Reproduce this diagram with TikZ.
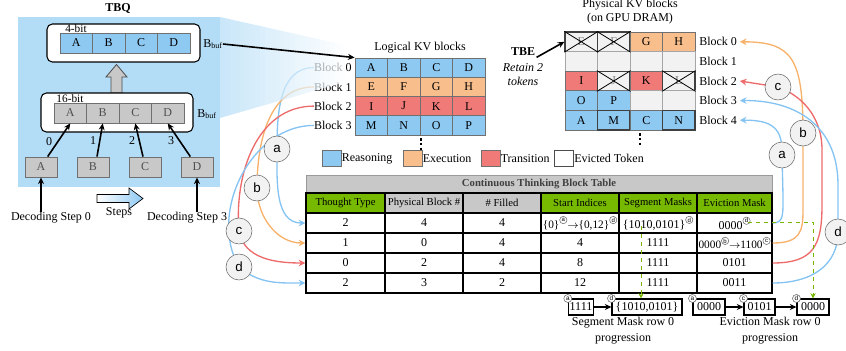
\documentclass[tikz,border=0pt]{standalone}
\usepackage{fontspec}
\setmainfont{Liberation Serif}
\newfontfamily\sansf{Liberation Sans}
\usetikzlibrary{arrows.meta,calc}
\definecolor{reas}{HTML}{8EC9F2}
\definecolor{exec}{HTML}{F8BE8C}
\definecolor{trans}{HTML}{F07A78}
\definecolor{panel}{HTML}{B3DCF6}
\definecolor{cellg}{HTML}{C8C8C8}
\definecolor{emptyc}{HTML}{F2F2F2}
\definecolor{nvg}{HTML}{76B900}
\definecolor{lblue}{HTML}{85C4F2}
\definecolor{lorange}{HTML}{F6B26B}
\definecolor{lred}{HTML}{EE6B6B}
\definecolor{gbord}{HTML}{707070}
\definecolor{gtext}{HTML}{505050}
\newcommand\circl[1]{\raisebox{0.8ex}{\tikz\node[circle,draw=black!60,inner sep=0pt,minimum size=5.5pt,font=\sansf\fontsize{4.5}{5}\selectfont]{#1};}}
\tikzset{
  txt/.style={inner sep=0pt, font=\fontsize{9}{10.5}\selectfont},
  kvcell/.style={draw=gbord, line width=0.6pt, minimum width=24.4pt, minimum height=14.45pt, inner sep=0pt, font=\fontsize{9}{10}\selectfont},
  pcell/.style={kvcell, minimum height=14.7pt},
  gcell/.style={kvcell, fill=cellg, text=gtext, minimum height=15pt},
  ecell/.style={pcell, fill=emptyc, draw=gray!70},
  xcell/.style={pcell, fill=emptyc, draw=black!75, line width=0.9pt, text=gray},
  roundbox/.style={draw=black, line width=0.8pt, fill=white, rounded corners=4pt, inner sep=0pt},
  circ/.style={circle, draw=black!60, fill=emptyc, minimum size=19.5pt, inner sep=0pt, font=\sansf\fontsize{10}{12}\selectfont},
  tc/.style={draw=black, line width=1pt, minimum height=15pt, inner sep=0pt, font=\fontsize{9}{10}\selectfont},
  th/.style={tc, font=\fontsize{8}{9}\selectfont},
  barrow/.style={-{Stealth[length=5pt,width=4.5pt]}, line width=1.2pt},
  flow/.style={line width=1pt, -{Stealth[length=5pt,width=5pt]}},
  pbox/.style={draw=black, line width=0.8pt, minimum height=12pt, inner sep=1pt, font=\fontsize{9}{10}\selectfont},
  mark circ/.style={circle, draw=black!60, fill=white, inner sep=0pt, minimum size=6pt, font=\sansf\fontsize{4.8}{5}\selectfont},
  swatch/.style={draw=gbord, line width=0.6pt, minimum width=14.25pt, minimum height=12pt, inner sep=0pt},
}
\begin{document}
\begin{tikzpicture}[x=0.75pt,y=-0.75pt]
\useasboundingbox (0,0) rectangle (846,350);
% TBQ panel
\fill[panel] (18,17) rectangle (220,187);
\node[font=\bfseries\fontsize{9}{10}\selectfont] (tbq) at (118,8) {TBQ};

% table
\node[draw=gray!80, line width=0.6pt, fill=cellg, minimum width=349.5pt, minimum height=13.5pt, inner sep=0pt, font=\bfseries\fontsize{8}{9}\selectfont, text=black!75] (ttl) at (539,184) {Continuous Thinking Block Table};
\node[th, fill=nvg, minimum width=59.25pt] (t-0-1) at (345.5,203) {Thought Type};
\node[th, fill=cellg, minimum width=58.5pt] (t-0-2) at (424,203) {Physical Block \#};
\node[th, fill=cellg, minimum width=58.5pt] (t-0-3) at (502,203) {\# Filled};
\node[th, fill=nvg, minimum width=58.5pt] (t-0-4) at (580,203) {Start Indices};
\node[th, fill=nvg, minimum width=58.5pt] (t-0-5) at (658,203) {Segment Masks};
\node[th, fill=nvg, minimum width=56.25pt] (t-0-6) at (734.5,203) {Eviction Mask};
% row 1
\node[tc, minimum width=59.25pt] (t-1-1) at (345.5,223) {2};
\node[tc, minimum width=58.5pt] (t-1-2) at (424,223) {4};
\node[tc, minimum width=58.5pt] (t-1-3) at (502,223) {4};
\node[tc, minimum width=58.5pt, font=\fontsize{8.5}{10}\selectfont] (t-1-4) at (580,223) {\{0\}\circl{a}$\rightarrow$\{0,12\}\circl{d}};
\node[tc, minimum width=58.5pt] (t-1-5) at (658,223) {\{1010,0101\}\circl{d}};
\node[tc, minimum width=56.25pt] (t-1-6) at (734.5,223) {0000\circl{d}};
% row 2
\node[tc, minimum width=59.25pt] (t-2-1) at (345.5,243) {1};
\node[tc, minimum width=58.5pt] (t-2-2) at (424,243) {0};
\node[tc, minimum width=58.5pt] (t-2-3) at (502,243) {4};
\node[tc, minimum width=58.5pt] (t-2-4) at (580,243) {4};
\node[tc, minimum width=58.5pt] (t-2-5) at (658,243) {1111};
\node[tc, minimum width=56.25pt, font=\fontsize{8.5}{10}\selectfont] (t-2-6) at (734.5,243) {0000\circl{b}$\rightarrow$1100\circl{c}};
% row 3
\node[tc, minimum width=59.25pt] (t-3-1) at (345.5,263) {0};
\node[tc, minimum width=58.5pt] (t-3-2) at (424,263) {2};
\node[tc, minimum width=58.5pt] (t-3-3) at (502,263) {4};
\node[tc, minimum width=58.5pt] (t-3-4) at (580,263) {8};
\node[tc, minimum width=58.5pt] (t-3-5) at (658,263) {1111};
\node[tc, minimum width=56.25pt] (t-3-6) at (734.5,263) {0101};
% row 4
\node[tc, minimum width=59.25pt] (t-4-1) at (345.5,283) {2};
\node[tc, minimum width=58.5pt] (t-4-2) at (424,283) {3};
\node[tc, minimum width=58.5pt] (t-4-3) at (502,283) {2};
\node[tc, minimum width=58.5pt] (t-4-4) at (580,283) {12};
\node[tc, minimum width=58.5pt] (t-4-5) at (658,283) {1111};
\node[tc, minimum width=56.25pt] (t-4-6) at (734.5,283) {0011};

% logical KV labels
\node[txt, anchor=east] (lb0) at (352,67.6) {Block 0};
\node[txt, anchor=east] (lb1) at (352,86.9) {Block 1};
\node[txt, anchor=east] (lb2) at (352,106.1) {Block 2};
\node[txt, anchor=east] (lb3) at (352,125.4) {Block 3};

% circle positions
\coordinate (ca) at (277,149);
\coordinate (cb) at (257,188);
\coordinate (cc) at (239,231);
\coordinate (cd) at (239,267);
\coordinate (ra) at (782,155);
\coordinate (rb) at (803,133);
\coordinate (rc) at (778,87);
\coordinate (rd) at (838,232);

% left curves
\draw[flow, lblue] (lb0.west) to[out=180,in=90] (ca) to[out=-90,in=180] (t-1-1.west);
\draw[flow, lorange] (lb1.west) to[out=180,in=90] (cb) to[out=-90,in=180] (t-2-1.west);
\draw[flow, lred] (lb2.west) to[out=180,in=95] (cc) to[out=-80,in=180] (t-3-1.west);
\draw[flow, lblue] (lb3.west) to[out=180,in=120] (cd) to[out=-40,in=180] (t-4-1.west);

% fading trapezoid (strips)
\begin{scope}
\clip (220,17) -- (345,45) -- (345,82) -- (220,118) -- cycle;
\foreach \i in {0,...,24}{
  \pgfmathsetmacro\pc{100-4*\i}
  \fill[panel!\pc!white, opacity=0.7] (220+5*\i,10) rectangle (225+5*\i,125);
}
\end{scope}

% left circles
\node[circ] (ca-n) at (ca) {a};
\node[circ] (cb-n) at (cb) {b};
\node[circ] (cc-n) at (cc) {c};
\node[circ] (cd-n) at (cd) {d};

% TBQ 4-bit
\node[roundbox, minimum width=114.75pt, minimum height=28.5pt] (q4) at (123.5,43) {};
\node[kvcell, fill=reas, minimum height=15pt] (q4a) at (76.25,43) {A};
\node[kvcell, fill=reas, minimum height=15pt] (q4b) at (108.75,43) {B};
\node[kvcell, fill=reas, minimum height=15pt] (q4c) at (141.25,43) {C};
\node[kvcell, fill=reas, minimum height=15pt] (q4d) at (173.75,43) {D};
\node[font=\fontsize{8.5}{9}\selectfont, inner sep=0pt] (q4l) at (76,28.5) {4-bit};
\node[txt] (bb4) at (213,44) {B\textsubscript{buf}};
% up arrow
\draw[fill=cellg, draw=black!70, line width=0.6pt] (111,93) -- (111,77) -- (106,77) -- (116.5,64.5) -- (127,77) -- (122,77) -- (122,93) -- cycle;
% TBQ 16-bit
\node[roundbox, minimum width=114pt, minimum height=29.25pt] (q16) at (117,112.5) {};
\node[gcell] (q16a) at (70.25,113) {A};
\node[gcell] (q16b) at (102.75,113) {B};
\node[gcell] (q16c) at (135.25,113) {C};
\node[gcell] (q16d) at (167.75,113) {D};
\node[font=\fontsize{8.5}{9}\selectfont, inner sep=0pt] (q16l) at (70,98.5) {16-bit};
\node[txt] (bb16) at (207,114) {B\textsubscript{buf}};
% decoding squares
\node[gcell, minimum width=24pt] (da) at (41,167) {A};
\node[gcell, minimum width=24pt] (db) at (93,167) {B};
\node[gcell, minimum width=24pt] (dc) at (145,167) {C};
\node[gcell, minimum width=24pt] (dd) at (197,167) {D};
\draw[barrow] ([xshift=5pt]da.north) -- (q16a.south);
\draw[barrow] ([xshift=3pt]db.north) -- (q16b.south);
\draw[barrow] ([xshift=-1.5pt]dc.north) -- (q16c.south);
\draw[barrow] ([xshift=-5pt]dd.north) -- (q16d.south);
\node[txt] (n0) at (49,142) {0};
\node[txt] (n1) at (93,141) {1};
\node[txt] (n2) at (132,141) {2};
\node[txt] (n3) at (171,141) {3};
\node[txt] (ds0) at (51,218) {Decoding Step 0};
\node[txt] (ds3) at (187,218) {Decoding Step 3};
\draw[barrow] (ds0.north -| da) -- (da.south);
\draw[barrow] (ds3.north -| dd) -- (dd.south);
\draw[left color=white, right color=reas, draw=black, line width=0.5pt] (97,194.5) -- (129,194.5) -- (129,188) -- (143,198.5) -- (129,209) -- (129,202.5) -- (97,202.5) -- cycle;
\node[txt] (steps) at (119,213) {Steps};

% logical KV blocks
\node[txt] (ltitle) at (420,48) {Logical KV blocks};
\node[kvcell, fill=reas] (l-0-1) at (371.25,67.6) {A};
\node[kvcell, fill=reas] (l-0-2) at (403.75,67.6) {B};
\node[kvcell, fill=reas] (l-0-3) at (436.25,67.6) {C};
\node[kvcell, fill=reas] (l-0-4) at (468.75,67.6) {D};
\node[kvcell, fill=exec] (l-1-1) at (371.25,86.9) {E};
\node[kvcell, fill=exec] (l-1-2) at (403.75,86.9) {F};
\node[kvcell, fill=exec] (l-1-3) at (436.25,86.9) {G};
\node[kvcell, fill=exec] (l-1-4) at (468.75,86.9) {H};
\node[kvcell, fill=trans] (l-2-1) at (371.25,106.1) {I};
\node[kvcell, fill=trans] (l-2-2) at (403.75,106.1) {J};
\node[kvcell, fill=trans] (l-2-3) at (436.25,106.1) {K};
\node[kvcell, fill=trans] (l-2-4) at (468.75,106.1) {L};
\node[kvcell, fill=reas] (l-3-1) at (371.25,125.4) {M};
\node[kvcell, fill=reas] (l-3-2) at (403.75,125.4) {N};
\node[kvcell, fill=reas] (l-3-3) at (436.25,125.4) {O};
\node[kvcell, fill=reas] (l-3-4) at (468.75,125.4) {P};
\draw[line width=2pt, dash pattern=on 2pt off 1.6pt] (421,138) -- (421,151);
\draw[barrow] (bb4.east) -- (l-0-1.north west);

% legend
\node[swatch, fill=reas] (lg1) at (331.5,158.5) {};
\node[txt, anchor=west] (lgt1) at (341.5,158.5) {Reasoning};
\node[swatch, fill=exec] (lg2) at (412.5,158.5) {};
\node[txt, anchor=west] (lgt2) at (422.5,158.5) {Execution};
\node[swatch, fill=trans] (lg3) at (490.5,158.5) {};
\node[txt, anchor=west] (lgt3) at (500.5,158.5) {Transition};
\node[swatch, fill=white, draw=black!70, line width=0.9pt] (lg4) at (564,158.5) {};
\node[txt, anchor=west] (lgt4) at (574,158.5) {Evicted Token};

% physical KV blocks
\node[txt, align=center] (ptitle) at (630,12) {Physical KV blocks\\(on GPU DRAM)};
\node[xcell] (p-0-1) at (581.25,41.8) {E};
\node[xcell] (p-0-2) at (613.75,41.8) {F};
\node[pcell, fill=exec] (p-0-3) at (646.25,41.8) {G};
\node[pcell, fill=exec] (p-0-4) at (678.75,41.8) {H};
\node[ecell] (p-1-1) at (581.25,61.4) {};
\node[ecell] (p-1-2) at (613.75,61.4) {};
\node[ecell] (p-1-3) at (646.25,61.4) {};
\node[ecell] (p-1-4) at (678.75,61.4) {};
\node[pcell, fill=trans] (p-2-1) at (581.25,81) {I};
\node[xcell] (p-2-2) at (613.75,81) {J};
\node[pcell, fill=trans] (p-2-3) at (646.25,81) {K};
\node[xcell] (p-2-4) at (678.75,81) {L};
\node[pcell, fill=reas] (p-3-1) at (581.25,100.6) {O};
\node[pcell, fill=reas] (p-3-2) at (613.75,100.6) {P};
\node[ecell] (p-3-3) at (646.25,100.6) {};
\node[ecell] (p-3-4) at (678.75,100.6) {};
\node[pcell, fill=reas] (p-4-1) at (581.25,120.2) {A};
\node[pcell, fill=reas, draw=black!75, line width=0.9pt] (p-4-2) at (613.75,120.2) {M};
\node[pcell, fill=reas] (p-4-3) at (646.25,120.2) {C};
\node[pcell, fill=reas, draw=black!75, line width=0.9pt] (p-4-4) at (678.75,120.2) {N};
\foreach \n in {p-0-1,p-0-2,p-2-2,p-2-4}{
  \draw[line width=0.6pt] (\n.north west) -- (\n.south east) (\n.south west) -- (\n.north east);
}
\draw[line width=2pt, dash pattern=on 2pt off 1.6pt] (640,133) -- (640,146);
\node[txt, anchor=west] (pb0) at (699,41.8) {Block 0};
\node[txt, anchor=west] (pb1) at (699,61.4) {Block 1};
\node[txt, anchor=west] (pb2) at (699,81) {Block 2};
\node[txt, anchor=west] (pb3) at (699,100.6) {Block 3};
\node[txt, anchor=west] (pb4) at (699,120.2) {Block 4};
\node[font=\bfseries\fontsize{9}{10}\selectfont, inner sep=0pt] (tbe) at (523,52) {TBE};
\node[font=\itshape\fontsize{9}{10.5}\selectfont, align=center, inner sep=0pt] (ret) at (523,75) {Retain 2\\tokens};
\draw[barrow] ([xshift=1pt,yshift=-4pt]tbe.east) -- (p-0-1.west);

% right curves
\draw[flow, lblue] (t-1-6.east) .. controls (784,223) and (783,214) .. (783,195) -- (ra) .. controls (783,128) and (772,120) .. ([xshift=2pt]pb4.east);
\draw[flow, lorange] (t-2-6.east) .. controls (800,243) and (803,232) .. (803,210) -- (rb) .. controls (803,58) and (792,42) .. ([xshift=2pt]pb0.east);
\draw[flow, lred] (t-3-6.east) .. controls (814,263) and (822,245) .. (822,205) -- (822,150) .. controls (822,115) and (800,95) .. (rc) -- ([xshift=2pt]pb2.east);
\draw[flow, lblue] (t-4-6.east) .. controls (812,283) and (838,265) .. (rd) -- (838,185) .. controls (838,125) and (795,100) .. ([xshift=2pt]pb3.east);
\node[circ] (ra-n) at (ra) {a};
\node[circ] (rb-n) at (rb) {b};
\node[circ] (rc-n) at (rc) {c};
\node[circ] (rd-n) at (rd) {d};

% progression boxes
\node[pbox, minimum width=18pt] (s1) at (581,307) {1111};
\node[pbox, minimum width=52.5pt] (s2) at (647,307) {\{1010,0101\}};
\node[pbox, minimum width=24pt] (e1) at (709,307) {0000};
\node[pbox, minimum width=23.25pt] (e2) at (759.5,307) {0101};
\node[pbox, minimum width=24pt] (e3) at (813,307) {0000};
\node[mark circ] (m1) at (s1.north west) {a};
\node[mark circ] (m2) at (s2.north west) {d};
\node[mark circ] (m3) at (e1.north west) {a};
\node[mark circ] (m4) at (e2.north west) {c};
\node[mark circ] (m5) at (e3.north west) {d};
\draw[barrow] (s1.east) -- (s2.west);
\draw[barrow] (e1.east) -- (e2.west);
\draw[barrow] (e2.east) -- (e3.west);
\node[txt, align=center, font=\fontsize{9}{12}\selectfont] (sl) at (623,331) {Segment Mask row 0\\progression};
\node[txt, align=center, font=\fontsize{9}{12}\selectfont] (el) at (770,331) {Eviction Mask row 0\\progression};

% green dashed
\coordinate (gs) at (641,226);
\coordinate (ge) at (748,222);
\draw[nvg, dashed, line width=0.6pt, -{Stealth[length=4pt,width=4pt]}] (gs) -- (gs |- s2.north);
\draw[nvg, dashed, line width=0.6pt, -{Stealth[length=4pt,width=4pt]}] (ge) -| (e3.north);
\end{tikzpicture}
\end{document}
